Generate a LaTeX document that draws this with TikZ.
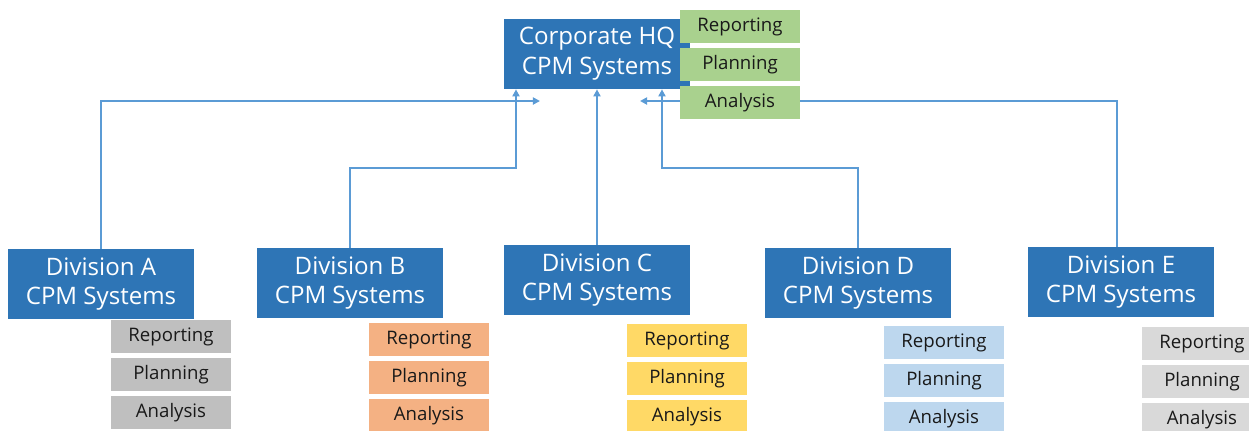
\documentclass[tikz,border=0pt]{standalone}
\usepackage{fontspec}
\setmainfont{Open Sans}
\usepackage{tikz}
\usetikzlibrary{positioning, arrows.meta, backgrounds}
\definecolor{hqblue}{RGB}{46,117,182}
\definecolor{linkblue}{RGB}{91,155,213}
\definecolor{toolgreen}{RGB}{169,209,142}
\definecolor{toolgray}{RGB}{191,191,191}
\definecolor{toolorange}{RGB}{244,177,131}
\definecolor{toolyellow}{RGB}{255,217,102}
\definecolor{toolblue}{RGB}{189,215,238}
\definecolor{toollight}{RGB}{217,217,217}
\tikzset{
    division/.style={
        fill = hqblue, text = white,
        minimum width = 3.72cm,
        minimum height = 1.4cm,
        inner sep = 0pt,
        align = center,
        font = \fontsize{13.7}{17}\selectfont
    },
    tool/.style={
        minimum width = 2.4cm,
        minimum height = 0.66cm,
        inner sep = 0pt,
        text = black!90,
        font = \fontsize{10.6}{12}\selectfont
    },
    link/.style = {draw = linkblue, line width = 1.1pt, -{Triangle[length=4pt, width=4pt]}}
}

\begin{document}
\begin{tikzpicture}[x = 0.02cm, y = -0.02cm]

    \useasboundingbox (0,0) rectangle (1249,430);

    \node[division] (hq) at (597,54) {Corporate HQ\\CPM Systems};
    \node[tool, fill = toolgreen, anchor = north] (repHQ) at (740,10) {Reporting};
    \node[tool, fill = toolgreen, below = 0.08cm of repHQ] (planHQ) {Planning};
    \node[tool, fill = toolgreen, below = 0.08cm of planHQ] (anaHQ) {Analysis};

    \node[division] (divA) at (101,284) {Division A\\CPM Systems};
    \node[division] (divB) at (350,283) {Division B\\CPM Systems};
    \node[division] (divC) at (597,280) {Division C\\CPM Systems};
    \node[division] (divD) at (858,283) {Division D\\CPM Systems};
    \node[division] (divE) at (1121,282) {Division E\\CPM Systems};

    \node[tool, fill = toolgray, anchor = north] (repA) at (171,320) {Reporting};
    \node[tool, fill = toolgray, below = 0.08cm of repA] (planA) {Planning};
    \node[tool, fill = toolgray, below = 0.08cm of planA] (anaA) {Analysis};

    \node[tool, fill = toolorange, anchor = north] (repB) at (429,323) {Reporting};
    \node[tool, fill = toolorange, below = 0.08cm of repB] (planB) {Planning};
    \node[tool, fill = toolorange, below = 0.08cm of planB] (anaB) {Analysis};

    \node[tool, fill = toolyellow, anchor = north] (repC) at (687,324) {Reporting};
    \node[tool, fill = toolyellow, below = 0.08cm of repC] (planC) {Planning};
    \node[tool, fill = toolyellow, below = 0.08cm of planC] (anaC) {Analysis};

    \node[tool, fill = toolblue, anchor = north] (repD) at (944,326) {Reporting};
    \node[tool, fill = toolblue, below = 0.08cm of repD] (planD) {Planning};
    \node[tool, fill = toolblue, below = 0.08cm of planD] (anaD) {Analysis};

    \node[tool, fill = toollight, anchor = north] (repE) at (1202,327) {Reporting};
    \node[tool, fill = toollight, below = 0.08cm of repE] (planE) {Planning};
    \node[tool, fill = toollight, below = 0.08cm of planE] (anaE) {Analysis};

    \coordinate (endA) at (540,101);
    \coordinate (endE) at (640,101);
    \coordinate (bendB) at (516,168);
    \coordinate (bendD) at (662,168);

    \begin{scope}[on background layer]
        \draw[link] (divA.north -| 101,0) |- (endA);
        \draw[link] (divE.north -| 1117,0) |- (endE);
        \draw[link] (divB.north) |- (bendB) -- (bendB |- hq.south);
        \draw[link] (divC.north) -- (hq.south);
        \draw[link] (divD.north) |- (bendD) -- (bendD |- hq.south);
    \end{scope}

\end{tikzpicture}
\end{document}
